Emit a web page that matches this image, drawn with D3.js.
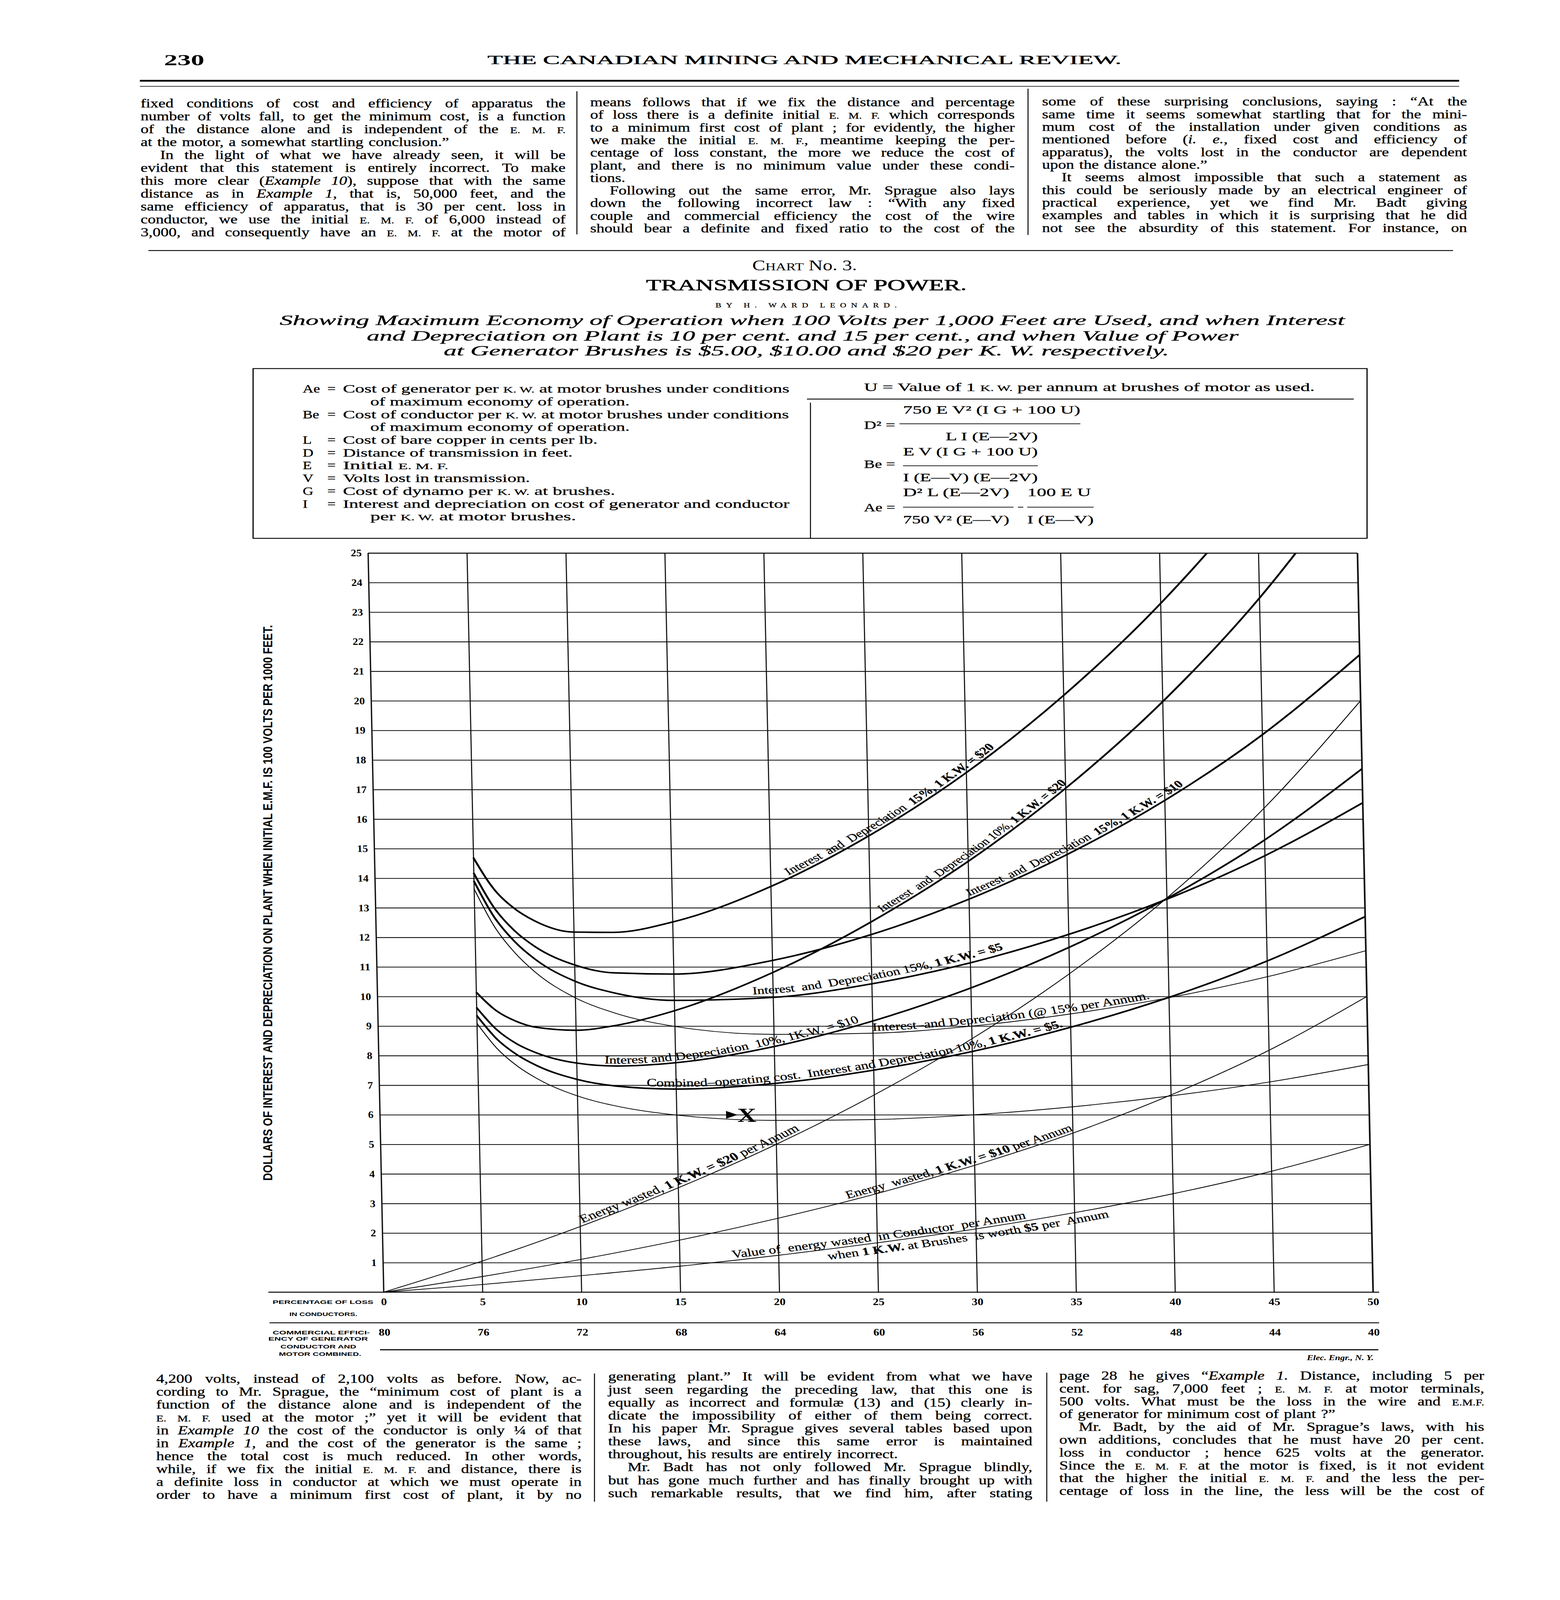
<!DOCTYPE html>
<html>
<head>
<meta charset="utf-8">
<script src="https://cdn.jsdelivr.net/npm/d3@7"></script>
<style>
html, body { margin: 0; padding: 0; background: #fff; overflow: hidden; }
svg { display: block; width: 100vw; height: 100vh; }
</style>
</head>
<body>
<script>
var width = 3994, height = 5448;

// ---------- chart values ----------
var lossPct    = [5, 6, 7, 8, 10, 12, 15, 20, 25, 30, 35, 40, 45, 50];
var interest10 = [9.10, 8.24, 7.65, 7.22, 6.64, 6.29, 5.99, 5.81, 5.84, 6.00, 6.27, 6.64, 7.11, 7.70];
var interest15 = [13.65, 12.36, 11.48, 10.83, 9.96, 9.44, 8.99, 8.72, 8.76, 9.00, 9.41, 9.96, 10.67, 11.55];
var i10kw5     = [9.36, 8.56, 8.03, 7.66, 7.20, 6.97, 6.87, 7.06, 7.51, 8.14, 8.96, 9.97, 11.20, 12.70];
var i10kw10    = [9.63, 8.88, 8.40, 8.09, 7.75, 7.65, 7.76, 8.31, 9.17, 10.29, 11.66, 13.31, 15.29, 17.70];
var i10kw20    = [10.15, 9.52, 9.16, 8.96, 8.86, 9.02, 9.52, 10.81, 12.51, 14.57, 17.04, 19.97, 23.47, 27.70];
var i15kw5     = [13.91, 12.68, 11.86, 11.27, 10.52, 10.12, 9.87, 9.97, 10.43, 11.14, 12.10, 13.29, 14.76, 16.55];
var i15kw10    = [14.18, 13.00, 12.23, 11.70, 11.07, 10.80, 10.76, 11.22, 12.09, 13.29, 14.80, 16.63, 18.85, 21.55];
var i15kw20    = [14.70, 13.64, 12.99, 12.57, 12.18, 12.17, 12.52, 13.72, 15.43, 17.57, 20.18, 23.29, 27.03, 31.55];

var wastedPct  = [0, 5, 10, 15, 20, 25, 30, 35, 40, 45, 50];
var wasted5    = [0, 0.26, 0.56, 0.88, 1.25, 1.67, 2.14, 2.69, 3.33, 4.09, 5.00];
var wasted10   = [0, 0.53, 1.11, 1.76, 2.50, 3.33, 4.29, 5.38, 6.67, 8.18, 10.00];
var wasted20   = [0, 1.05, 2.22, 3.53, 5.00, 6.67, 8.57, 10.77, 13.33, 16.36, 20.00];

var pctTicks    = [0, 5, 10, 15, 20, 25, 30, 35, 40, 45, 50];
var efficiency  = [80, 76, 72, 68, 64, 60, 56, 52, 48, 44, 40];
var dollarTicks = [1, 2, 3, 4, 5, 6, 7, 8, 9, 10, 11, 12, 13, 14, 15, 16, 17, 18, 19, 20, 21, 22, 23, 24, 25];

var curveNotes = [
  {id: "n1", key: "i15kw20", text: "Interest  and  Depreciation  *15%, 1 K.W. = $20*"},
  {id: "n2", key: "i10kw20", text: "Interest  and  Depreciation 10%, *1 K.W. = $20*"},
  {id: "n3", key: "i15kw10", text: "Interest  and  Depreciation  *15%, 1 K.W. = $10*"},
  {id: "n4", key: "i15kw5",  text: "Interest  and  Depreciation 15%, *1 K.W. = $5*"},
  {id: "n5", key: "interest15", text: "Interest–and Depreciation (@ 15% per Annum."},
  {id: "n6", key: "i10kw10", text: "Interest and Depreciation  10%, 1K.W. = $10"},
  {id: "n7", key: "i10kw5",  text: "Combined–operating cost.  Interest and Depreciation 10%, *1 K.W. = $5.*"},
  {id: "n8", key: "wasted20", text: "Energy wasted, *1 K.W. = $20* per Annum"},
  {id: "n9", key: "wasted10", text: "Energy  wasted, *1 K.W. = $10* per Annum"},
  {id: "n10", key: "wasted5", text: "Value of  energy wasted  in Conductor  per Annum"},
  {id: "n11", key: "wasted5", text: "when *1 K.W.* at Brushes  is worth *$5* per  Annum"}
];

var axisTitle = "DOLLARS OF INTEREST AND DEPRECIATION ON PLANT WHEN INITIAL E.M.F. IS 100 VOLTS PER 1000 FEET.";
var rowTitles = ["PERCENTAGE OF LOSS", "IN CONDUCTORS.", "COMMERCIAL EFFICI-", "ENCY OF GENERATOR", "CONDUCTOR AND", "MOTOR COMBINED."];

// ---------- page text ----------
var pageNo = "230";
var masthead = "THE CANADIAN MINING AND MECHANICAL REVIEW.";
var subtitle = [
  "Showing Maximum Economy of Operation when 100 Volts per 1,000 Feet are Used, and when Interest",
  "and Depreciation on Plant is 10 per cent. and 15 per cent., and when Value of Power",
  "at Generator Brushes is $5.00, $10.00 and $20 per K. W. respectively."
];
var legendRows = [
  ["Ae", "Cost of generator per ^K. W.^ at motor brushes under conditions"],
  ["", "of maximum economy of operation."],
  ["Be", "Cost of conductor per ^K. W.^ at motor brushes under conditions"],
  ["", "of maximum economy of operation."],
  ["L", "Cost of bare copper in cents per lb."],
  ["D", "Distance of transmission in feet."],
  ["E", "Initial ^E. M. F.^"],
  ["V", "Volts lost in transmission."],
  ["G", "Cost of dynamo per ^K. W.^ at brushes."],
  ["I", "Interest and depreciation on cost of generator and conductor"],
  ["", "per ^K. W.^ at motor brushes."]
];

var topLeft = [
  "fixed conditions of cost and efficiency of apparatus the",
  "number of volts fall, to get the minimum cost, is a function",
  "of the distance alone and is independent of the ^E. M. F.^",
  "at the motor, a somewhat startling conclusion.”|",
  ">In the light of what we have already seen, it will be",
  "evident that this statement is entirely incorrect. To make",
  "this more clear (_Example 10_), suppose that with the same",
  "distance as in _Example 1_, that is, 50,000 feet, and the",
  "same efficiency of apparatus, that is 30 per cent. loss in",
  "conductor, we use the initial ^E. M. F.^ of 6,000 instead of",
  "3,000, and consequently have an ^E. M. F.^ at the motor of"
];
var topMid = [
  "means follows that if we fix the distance and percentage",
  "of loss there is a definite initial ^E. M. F.^ which corresponds",
  "to a minimum first cost of plant ; for evidently, the higher",
  "we make the initial ^E. M. F.^, meantime keeping the per-",
  "centage of loss constant, the more we reduce the cost of",
  "plant, and there is no minimum value under these condi-",
  "tions.|",
  ">Following out the same error, Mr. Sprague also lays",
  "down the following incorrect law : “With any fixed",
  "couple and commercial efficiency the cost of the wire",
  "should bear a definite and fixed ratio to the cost of the"
];
var topRight = [
  "some of these surprising conclusions, saying : “At the",
  "same time it seems somewhat startling that for the mini-",
  "mum cost of the installation under given conditions as",
  "mentioned before (_i. e._, fixed cost and efficiency of",
  "apparatus), the volts lost in the conductor are dependent",
  "upon the distance alone.”|",
  ">It seems almost impossible that such a statement as",
  "this could be seriously made by an electrical engineer of",
  "practical experience, yet we find Mr. Badt giving",
  "examples and tables in which it is surprising that he did",
  "not see the absurdity of this statement. For instance, on"
];
var botLeft = [
  "4,200 volts, instead of 2,100 volts as before. Now, ac-",
  "cording to Mr. Sprague, the “minimum cost of plant is a",
  "function of the distance alone and is independent of the",
  "^E. M. F.^ used at the motor ;” yet it will be evident that",
  "in _Example 10_ the cost of the conductor is only ¼ of that",
  "in _Example 1_, and the cost of the generator is the same ;",
  "hence the total cost is much reduced. In other words,",
  "while, if we fix the initial ^E. M. F.^ and distance, there is",
  "a definite loss in conductor at which we must operate in",
  "order to have a minimum first cost of plant, it by no"
];
var botMid = [
  "generating plant.” It will be evident from what we have",
  "just seen regarding the preceding law, that this one is",
  "equally as incorrect and formulæ (13) and (15) clearly in-",
  "dicate the impossibility of either of them being correct.",
  "In his paper Mr. Sprague gives several tables based upon",
  "these laws, and since this same error is maintained",
  "throughout, his results are entirely incorrect.|",
  ">Mr. Badt has not only followed Mr. Sprague blindly,",
  "but has gone much further and has finally brought up with",
  "such remarkable results, that we find him, after stating"
];
var botRight = [
  "page 28 he gives “_Example 1._ Distance, including 5 per",
  "cent. for sag, 7,000 feet ; ^E. M. F.^ at motor terminals,",
  "500 volts. What must be the loss in the wire and ^E.M.F.^",
  "of generator for minimum cost of plant ?”|",
  ">Mr. Badt, by the aid of Mr. Sprague’s laws, with his",
  "own additions, concludes that he must have 20 per cent.",
  "loss in conductor ; hence 625 volts at the generator.",
  "Since the ^E. M. F.^ at the motor is fixed, is it not evident",
  "that the higher the initial ^E. M. F.^ and the less the per-",
  "centage of loss in the line, the less will be the cost of"
];

// ---------- helpers ----------
var SERIF = "Liberation Serif", SANS = "Liberation Sans";

function parseRich(str) {
  var segs = [], cur = "", it = false, sc = false, bd = false;
  for (var i = 0; i < str.length; i++) {
    var c = str[i];
    if (c === "_" || c === "^" || c === "*") {
      if (cur) segs.push({t: cur, it: it, sc: sc, bd: bd});
      cur = "";
      if (c === "_") it = !it; else if (c === "^") sc = !sc; else bd = !bd;
    } else cur += c;
  }
  if (cur) segs.push({t: cur, it: it, sc: sc, bd: bd});
  return segs;
}

function words(str) {
  var out = [[]];
  parseRich(str).forEach(function(s) {
    s.t.split(" ").forEach(function(p, j) {
      if (j > 0) out.push([]);
      if (p) out[out.length - 1].push({t: p, it: s.it, sc: s.sc, bd: s.bd});
    });
  });
  return out.filter(function(w) { return w.length; });
}

function addSegs(t, segs, size) {
  segs.forEach(function(s) {
    var sp = t.append("tspan").text(s.t);
    if (s.sc) sp.attr("font-size", size * 0.74);
    if (s.it) sp.attr("font-style", "italic");
    if (s.bd) sp.attr("font-weight", "bold");
  });
}

function richText(g, str, x0, y0, size, w) {
  var t = g.append("text").attr("x", x0).attr("y", y0).attr("font-size", size).style("white-space", "pre");
  addSegs(t, parseRich(str), size);
  if (w) t.attr("textLength", w).attr("lengthAdjust", "spacingAndGlyphs");
  return t;
}

// one justified line of body type; words are placed one by one
function bodyLine(g, str, x0, x1, yb, size, indentPx) {
  var indent = 0, just = true;
  if (str[0] === ">") { str = str.slice(1); indent = indentPx; }
  if (str[str.length - 1] === "|") { str = str.slice(0, -1); just = false; }
  var ws = words(str);
  var nodes = ws.map(function(w) {
    var t = g.append("text").attr("y", yb).attr("font-size", size);
    addSegs(t, w, size);
    return t;
  });
  var wid = nodes.map(function(t) { return t.node().getComputedTextLength(); });
  var total = d3.sum(wid), n = ws.length - 1;
  var avail = x1 - x0 - indent;
  var gap = size * 0.32;
  if (just && n > 0) gap = (avail - total) / n;
  if (gap < size * 0.16) {
    var k = avail / (total + n * size * 0.16);
    nodes.forEach(function(t, i) { t.attr("font-size", size * k); wid[i] *= k; });
    gap = size * 0.16 * k;
  }
  var cx = x0 + indent;
  nodes.forEach(function(t, i) { t.attr("x", cx); cx += wid[i] + gap; });
}

function column(lines, x0, x1, y0, dy) {
  var g = page.append("g").attr("font-family", SERIF).attr("fill", "#000")
    .attr("stroke", "#000").attr("stroke-width", 0.6);
  lines.forEach(function(l, i) { bodyLine(g, l, x0, x1, y0 + i * dy, 41, 50); });
}

function rule(x1, x2, yy, w) {
  page.append("line").attr("x1", x1).attr("x2", x2).attr("y1", yy).attr("y2", yy)
    .attr("stroke", "#000").attr("stroke-width", w);
}
function vrule(xx, y1, y2, w) {
  page.append("line").attr("x1", xx).attr("x2", xx).attr("y1", y1).attr("y2", y2)
    .attr("stroke", "#000").attr("stroke-width", w);
}

// ---------- page ----------
// the drawing is laid out on a 3994 x 5448 sheet and fitted to the window
var svg = d3.select("body").append("svg")
    .attr("viewBox", "0 0 " + width + " " + height)
    .attr("preserveAspectRatio", "none");

svg.append("rect").attr("width", width).attr("height", height).attr("fill", "#fff");
var page = svg.append("g");

// masthead
page.append("text").attr("x", 420).attr("y", 222).attr("font-family", SERIF).attr("font-weight", "bold")
  .attr("font-size", 52).attr("textLength", 103).attr("lengthAdjust", "spacingAndGlyphs").text(pageNo);
page.append("text").attr("x", 1248).attr("y", 218).attr("font-family", SERIF).attr("font-size", 41)
  .attr("stroke", "#000").attr("stroke-width", 0.8)
  .attr("textLength", 1623).attr("lengthAdjust", "spacingAndGlyphs").text(masthead);
rule(358, 3736, 275, 6);
rule(358, 3736, 294, 2);

column(topLeft, 360, 1448, 366, 43.85);
column(topMid, 1511, 2598, 361.6, 43.0);
column(topRight, 2668, 3756, 359.6, 43.0);
vrule(1477, 311, 798, 2.5);
vrule(2632, 302, 800, 2.5);

rule(380, 3720, 853, 3);

// chart title block
var tg = page.append("g").attr("font-family", SERIF).attr("fill", "#000");
var ct = tg.append("text").attr("x", 2060).attr("y", 920).attr("text-anchor", "middle").attr("font-size", 50);
ct.append("tspan").text("C");
ct.append("tspan").attr("font-size", 37).text("HART");
ct.append("tspan").text(" No. 3.");
tg.append("text").attr("x", 1654).attr("y", 988).attr("font-size", 52)
  .attr("stroke", "#000").attr("stroke-width", 1)
  .attr("textLength", 821).attr("lengthAdjust", "spacingAndGlyphs").text("TRANSMISSION OF POWER.");
tg.append("text").attr("x", 1832).attr("y", 1047).attr("font-size", 22)
  .attr("stroke", "#000").attr("stroke-width", 0.5)
  .attr("textLength", 464).attr("lengthAdjust", "spacing").text("BY H. WARD LEONARD.");
var subPos = [[716, 1107, 2727], [939, 1160, 2232], [1136, 1210, 1857]];
subtitle.forEach(function(s, i) {
  tg.append("text").attr("x", subPos[i][0]).attr("y", subPos[i][1]).attr("font-size", 48)
    .attr("font-style", "italic").attr("stroke", "#000").attr("stroke-width", 0.6)
    .attr("textLength", subPos[i][2]).attr("lengthAdjust", "spacingAndGlyphs").text(s);
});

// legend box
page.append("rect").attr("x", 648).attr("y", 1255).attr("width", 2852).attr("height", 578)
  .attr("fill", "none").attr("stroke", "#000").attr("stroke-width", 3);
vrule(2075, 1371, 1833, 2.5);
rule(2066, 3466, 1359, 3);

var lg = page.append("g").attr("font-family", SERIF).attr("fill", "#000")
  .attr("stroke", "#000").attr("stroke-width", 0.5);
var rowEnds = [2021, 1612, 2020, 1612, 1530, 1466, 1148, 1357, 1575, 2021, 1475];
legendRows.forEach(function(r, i) {
  var yb = 1337 + i * 43.5;
  if (r[0]) {
    lg.append("text").attr("x", 775).attr("y", yb).attr("font-size", 38).text(r[0]);
    lg.append("text").attr("x", 838).attr("y", yb).attr("font-size", 38).text("=");
    richText(lg, r[1], 878, yb, 38, rowEnds[i] - 878);
  } else {
    richText(lg, r[1], 948, yb, 38, rowEnds[i] - 948);
  }
});

richText(lg, "U = Value of 1 ^K. W.^ per annum at brushes of motor as used.", 2212, 1332, 38, 1154);
var formulaBits = [
  ["750 E V² (I G + 100 U)", 2312, 1408, 454],
  ["D² =", 2212, 1460, 80],
  ["L I (E—2V)", 2421, 1499, 236],
  ["E V (I G + 100 U)", 2312, 1551, 345],
  ["Be =", 2212, 1594, 80],
  ["I (E—V) (E—2V)", 2312, 1639, 345],
  ["D² L (E—2V)", 2312, 1689, 272],
  ["100 E U", 2630, 1689, 163],
  ["Ae =", 2212, 1741, 80],
  ["750 V² (E—V)", 2312, 1782, 272],
  ["I (E—V)", 2630, 1782, 170]
];
formulaBits.forEach(function(f) { richText(lg, f[0], f[1], f[2], 38, f[3]); });
rule(2303, 2766, 1443, 2.5);
rule(2312, 2657, 1586, 2.5);
rule(2312, 2595, 1727, 2.5);
rule(2606, 2620, 1727, 2.5);
rule(2630, 2800, 1727, 2.5);

// ---------- the chart ----------
var x = d3.scaleLinear().domain([0, 50]).range([942, 3475]);
var y = d3.scaleLinear().domain([0, 25]).range([4400, 1883]);
var skew = Math.atan(40 / 2517) * 180 / Math.PI;   // the plate leans a little

var chart = page.append("g")
  .attr("transform", "translate(0," + y(25) + ") skewX(" + skew + ") translate(0," + (-y(25)) + ")");

chart.append("defs").append("clipPath").attr("id", "plotClip")
  .append("rect").attr("x", x(0)).attr("y", y(25)).attr("width", x(50) - x(0)).attr("height", y(0) - y(25));

function digitFit(sel, size, per) {
  sel.attr("font-family", SERIF).attr("font-weight", "bold").attr("font-size", size).attr("fill", "#000")
    .attr("textLength", function() { return this.textContent.length * per; })
    .attr("lengthAdjust", "spacingAndGlyphs");
}

// horizontal rulings and dollar labels
chart.append("g").attr("transform", "translate(" + x(0) + ",0)")
  .call(d3.axisLeft(y).tickValues(dollarTicks).tickSize(-(x(50) - x(0))).tickPadding(16))
  .call(function(g) { g.select(".domain").remove(); })
  .call(function(g) {
    g.selectAll("line").attr("stroke", "#111").attr("stroke-width", function(d) { return d === 25 ? 3.6 : 2.8; });
  })
  .call(function(g) { digitFit(g.selectAll("text"), 34, 14); });

// vertical rulings and percentage labels
chart.append("g").attr("transform", "translate(0," + y(0) + ")")
  .call(d3.axisBottom(x).tickValues(pctTicks).tickSize(-(y(0) - y(25))).tickPadding(20))
  .call(function(g) { g.select(".domain").remove(); })
  .call(function(g) {
    g.selectAll("line").attr("stroke", "#111")
      .attr("stroke-width", function(d) { return d === 50 ? 4.2 : (d === 0 ? 3.4 : 2.8); });
  })
  .call(function(g) { digitFit(g.selectAll("text"), 34, 15); });

// efficiency row
chart.append("g").attr("transform", "translate(0,4504)")
  .call(d3.axisBottom(x).tickValues(pctTicks).tickSize(0).tickPadding(20)
    .tickFormat(function(d, i) { return efficiency[i]; }))
  .call(function(g) { g.select(".domain").remove(); g.selectAll("line").remove(); })
  .call(function(g) { digitFit(g.selectAll("text"), 34, 15); });

rule(687, 3531, y(0), 3.2);
rule(690, 3531, 4504, 3);
rule(973, 3529, 4596, 3.5);

// curves
var seriesList = [
  {key: "wasted5", xs: wastedPct, ys: wasted5},
  {key: "wasted10", xs: wastedPct, ys: wasted10},
  {key: "wasted20", xs: wastedPct, ys: wasted20},
  {key: "interest10", xs: lossPct, ys: interest10},
  {key: "interest15", xs: lossPct, ys: interest15},
  {key: "i10kw5", xs: lossPct, ys: i10kw5},
  {key: "i10kw10", xs: lossPct, ys: i10kw10},
  {key: "i10kw20", xs: lossPct, ys: i10kw20},
  {key: "i15kw5", xs: lossPct, ys: i15kw5},
  {key: "i15kw10", xs: lossPct, ys: i15kw10},
  {key: "i15kw20", xs: lossPct, ys: i15kw20}
];
var thin = {wasted5: 1, wasted10: 1, wasted20: 1, interest10: 1, interest15: 1};

var line = d3.line()
  .x(function(d) { return x(d[0]); })
  .y(function(d) { return y(d[1]); })
  .curve(d3.curveMonotoneX);

chart.append("g").attr("clip-path", "url(#plotClip)")
  .selectAll("path").data(seriesList).join("path")
  .attr("id", function(s) { return "c-" + s.key; })
  .attr("d", function(s) { return line(s.xs.map(function(v, i) { return [v, s.ys[i]]; })); })
  .attr("fill", "none")
  .attr("stroke", "#000")
  .attr("stroke-linejoin", "round")
  .attr("stroke-width", function(s) { return thin[s.key] ? 2.5 : 5.2; });

// notes written along the curves
function lengthAtX(pathEl, px) {
  var lo = 0, hi = pathEl.getTotalLength();
  for (var i = 0; i < 32; i++) {
    var m = (lo + hi) / 2;
    if (pathEl.getPointAtLength(m).x < px) lo = m; else hi = m;
  }
  return lo;
}
var notePlace = {
  n1: [21.0, 31.6, -9], n2: [25.7, 35.2, -9], n3: [30.1, 41.1, -9], n4: [19.0, 31.8, -14],
  n5: [25.0, 39.1, -8], n6: [11.4, 24.4, -8], n7: [13.5, 34.7, -8], n8: [10.2, 21.3, -8],
  n9: [23.6, 35.1, -8], n10: [17.7, 32.6, -8], n11: [22.4, 36.6, 36]
};
var notesG = chart.append("g").attr("font-family", SERIF).attr("fill", "#000")
  .attr("stroke", "#000").attr("stroke-width", 0.5);
curveNotes.forEach(function(nt) {
  var pl = notePlace[nt.id];
  var pathEl = document.getElementById("c-" + nt.key);
  var s0 = lengthAtX(pathEl, x(pl[0])), s1 = lengthAtX(pathEl, x(pl[1]));
  var t = notesG.append("text").attr("font-size", 30).style("white-space", "pre");
  var tp = t.append("textPath").attr("href", "#c-" + nt.key).attr("startOffset", s0);
  var inner = tp.append("tspan").attr("dy", pl[2]);
  addSegs(inner, parseRich(nt.text), 30);
  var L = t.node().getComputedTextLength();
  if (L > 0) t.attr("font-size", 30 * (s1 - s0) / L);
});

// the X at the minimum, with its little arrow
chart.append("path")
  .attr("d", d3.line()([[x(17.5), y(6.13)], [x(18.08), y(6.0)], [x(17.5), y(5.87)]]) + "Z")
  .attr("fill", "#000");
chart.append("text").attr("x", x(18.55)).attr("y", y(6.0) + 24).attr("text-anchor", "middle")
  .attr("font-family", SERIF).attr("font-weight", "bold").attr("font-size", 68).text("X");

// vertical axis title
page.append("text")
  .attr("transform", "translate(697,3074) rotate(-90)")
  .attr("text-anchor", "middle")
  .attr("font-family", SANS).attr("font-weight", "bold").attr("font-size", 34)
  .attr("textLength", 1892).attr("lengthAdjust", "spacingAndGlyphs")
  .text(axisTitle);

// row titles under the chart
var rowPos = [[698, 4440, 258], [741, 4481, 174], [698, 4543, 249], [687, 4565, 255], [718, 4591, 194], [714, 4617, 211]];
rowTitles.forEach(function(r, i) {
  page.append("text").attr("x", rowPos[i][0]).attr("y", rowPos[i][1])
    .attr("font-family", SANS).attr("font-weight", "bold").attr("font-size", 16)
    .attr("textLength", rowPos[i][2]).attr("lengthAdjust", "spacingAndGlyphs").text(r);
});

page.append("text").attr("x", 3517).attr("y", 4632).attr("text-anchor", "end")
  .attr("font-family", SERIF).attr("font-style", "italic").attr("font-weight", "bold")
  .attr("font-size", 24).text("Elec. Engr., N. Y.");

// lower columns
column(botLeft, 400, 1489, 4708, 43.9);
column(botMid, 1557, 2643, 4701, 44.1);
column(botRight, 2712, 3800, 4698, 43.6);
vrule(1522, 4677, 5113, 2.5);
vrule(2680, 4674, 5113, 2.5);
</script>
</body>
</html>
